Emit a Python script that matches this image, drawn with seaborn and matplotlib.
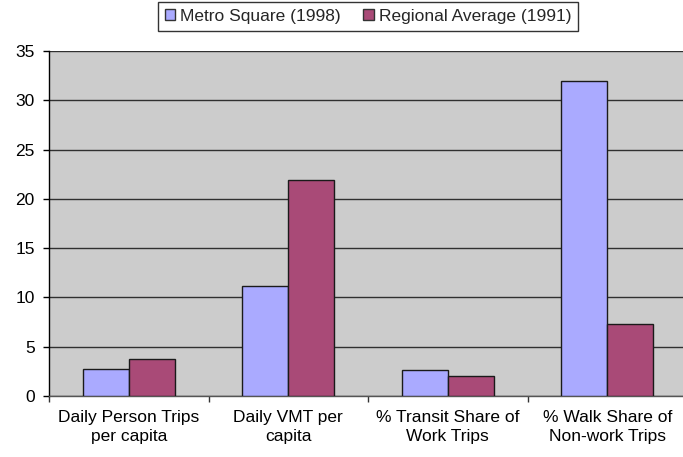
import matplotlib
matplotlib.use("Agg")
import matplotlib.pyplot as plt
from matplotlib.ticker import FixedLocator
import seaborn as sns
import pandas as pd

categories = [
    "Daily Person Trips\nper capita",
    "Daily VMT per\ncapita",
    "% Transit Share of\nWork Trips",
    "% Walk Share of\nNon-work Trips",
]
series_names = ["Metro Square (1998)", "Regional Average (1991)"]
metro_square = [2.7, 11.2, 2.6, 32.0]
regional_avg = [3.8, 21.9, 2.0, 7.3]
y_ticks = [0, 5, 10, 15, 20, 25, 30, 35]

df = pd.DataFrame({
    "category": categories * 2,
    "series": [series_names[0]] * 4 + [series_names[1]] * 4,
    "value": metro_square + regional_avg,
})

sns.set_theme(style="white")
plt.rcParams["font.family"] = ["Liberation Sans", "DejaVu Sans"]

FS = 12.5
W, H = 683, 457
fig = plt.figure(figsize=(W / 100, H / 100), dpi=100)
ax = fig.add_axes([49 / W, 61 / H, 638 / W, 345 / H])
ax.set_facecolor("#CCCCCC")

sns.barplot(
    data=df, x="category", y="value", hue="series",
    order=categories, hue_order=series_names,
    palette=["#AAAAFF", "#A94A77"], width=0.577,
    edgecolor="#1a1a1a", linewidth=1.0, saturation=1,
    errorbar=None, ax=ax, zorder=3,
)

ax.set_xlim(-0.5, 3.5)
ax.set_ylim(0, 35)
ax.set_yticks(y_ticks)
ax.yaxis.grid(True, color="#303030", linewidth=1.0, zorder=1)
ax.set_axisbelow(True)
for bar in ax.patches:
    bar.set_zorder(3)

for s in ["top", "right"]:
    ax.spines[s].set_visible(False)
ax.spines["left"].set_color("black")
ax.spines["left"].set_linewidth(1.0)
ax.spines["bottom"].set_color("#555555")
ax.spines["bottom"].set_linewidth(1.0)

ax.set_xlabel("")
ax.set_ylabel("")
ax.tick_params(axis="y", which="major", direction="out", length=4.3, width=1,
               color="black", labelsize=FS, labelcolor="black", left=True, pad=6)
ax.tick_params(axis="x", which="major", length=0, labelsize=FS,
               labelcolor="black", pad=10)
ax.xaxis.set_minor_locator(FixedLocator([-0.5, 0.5, 1.5, 2.5]))
ax.tick_params(axis="x", which="minor", direction="out", length=4.3, width=1,
               color="#333333", bottom=True)
for lbl in ax.get_xticklabels():
    lbl.set_linespacing(1.35)

handles, labels = ax.get_legend_handles_labels()
for h in handles:
    h.set_edgecolor("#333333")
leg = fig.legend(
    handles, labels, loc="upper center", bbox_to_anchor=(368 / W, 1 - 2 / H),
    ncol=2, frameon=True, fancybox=False, fontsize=FS,
    handlelength=0.6, handleheight=0.6, handletextpad=0.3, columnspacing=1.3,
    borderpad=0.4, borderaxespad=0.0, edgecolor="black",
)
leg.get_frame().set_linewidth(1.0)
if ax.get_legend() is not None:
    ax.get_legend().remove()

fig.savefig("out.png", dpi=100, facecolor="white")
